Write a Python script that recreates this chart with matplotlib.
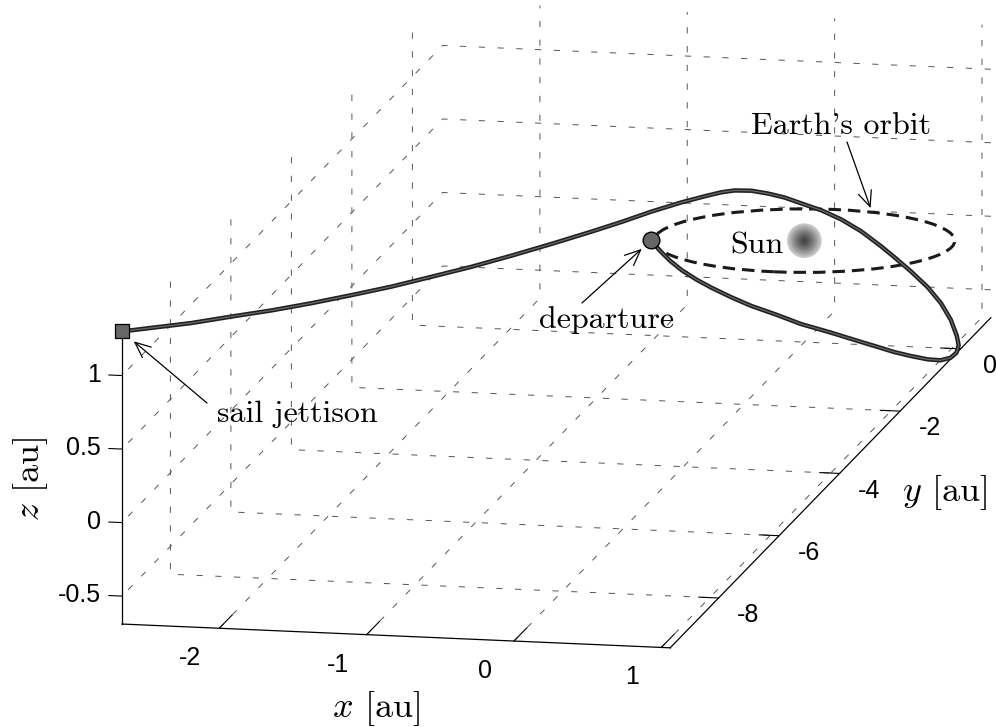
import numpy as np
import matplotlib
matplotlib.use("Agg")
import matplotlib.pyplot as plt
from matplotlib.patches import Circle
from mpl_toolkits.mplot3d import art3d, proj3d

plt.rcParams.update({
    "font.family": "Liberation Sans",
    "mathtext.fontset": "cm",
    "axes.unicode_minus": False,
    "grid.linestyle": (0, (4.5, 9.0)),
    "grid.linewidth": 0.7,
    "grid.color": "#555555",
    "lines.scale_dashes": False,
    "axes.linewidth": 0.9,
})

# sail trajectory from departure to sail jettison [au]
traj_x = [-1.0, -0.931, -0.855, -0.766, -0.657, -0.547, -0.404, -0.261, -0.085,
          0.091, 0.299, 0.503, 0.603, 0.722, 0.830, 0.935, 1.011, 1.054, 1.059,
          1.041, 0.999, 0.932, 0.841, 0.732, 0.601, 0.478, 0.386, 0.251, 0.124,
          0.010, -0.097, -0.180, -0.253, -0.328, -0.392, -0.440, -0.496, -0.589,
          -0.700, -0.811, -0.922, -1.071, -1.219, -1.368, -1.516, -1.664,
          -1.813, -1.961, -2.109, -2.258, -2.406, -2.555, -2.66]
traj_y = [-0.2, -0.24, -0.28, -0.32, -0.36, -0.40, -0.44, -0.48, -0.515,
          -0.55, -0.575, -0.58, -0.575, -0.56, -0.53, -0.48, -0.42, -0.30, -0.13,
          0.03, 0.17, 0.30, 0.42, 0.52, 0.60, 0.64, 0.66, 0.66, 0.62,
          0.52, 0.38, 0.22, 0.05, -0.15, -0.40, -0.595, -0.821, -1.197,
          -1.648, -2.099, -2.550, -3.151, -3.752, -4.354, -4.955, -5.556,
          -6.158, -6.759, -7.360, -7.962, -8.563, -9.164, -9.6]
traj_z = [0.0, -0.058, -0.114, -0.167, -0.218, -0.260, -0.310, -0.354, -0.398,
          -0.447, -0.491, -0.544, -0.571, -0.607, -0.636, -0.665, -0.681, -0.687,
          -0.689, -0.672, -0.638, -0.561, -0.478, -0.397, -0.311, -0.226, -0.162,
          -0.066, 0.018, 0.096, 0.168, 0.239, 0.298, 0.357, 0.409, 0.436, 0.457,
          0.488, 0.516, 0.536, 0.561, 0.598, 0.639, 0.684, 0.737, 0.791,
          0.854, 0.920, 0.992, 1.071, 1.148, 1.236, 1.30]

departure = (-1.0, -0.2, 0.0)
jettison = (-2.66, -9.6, 1.30)
sun = (0.0, 0.0, 0.0)
orbit_radius = 1.0
orbit_pointer = (0.26, 0.97, 0.0)

xlim = (-2.66, 1.06)
ylim = (-9.6, 1.0)
zlim = (-0.69, 1.30)
x_ticks = [-2, -1, 0, 1]
y_ticks = [-8, -6, -4, -2, 0]
z_ticks = [-0.5, 0, 0.5, 1]
z_ticklabels = ["-0.5", "0", "0.5", "1"]

W, H = 996, 727
fig = plt.figure(figsize=(W / 100, H / 100), dpi=100)
ax = fig.add_axes([0, 0, 1, 1], projection="3d", proj_type="ortho")
ax.computed_zorder = False
ax.set_xlim(*xlim)
ax.set_ylim(*ylim)
ax.set_zlim(*zlim)
ax.set_box_aspect((xlim[1] - xlim[0], ylim[1] - ylim[0], zlim[1] - zlim[0]))
ax.view_init(elev=12.2, azim=-78.4)

for axis in (ax.xaxis, ax.yaxis, ax.zaxis):
    axis.set_pane_color((1, 1, 1, 0))
    axis.pane.set_edgecolor((1, 1, 1, 0))
    axis._axinfo["tick"]["inward_factor"] = 0.0
    axis._axinfo["axisline"]["color"] = "k"
ax.xaxis._axinfo["tick"]["outward_factor"] = 0.5
ax.yaxis._axinfo["tick"]["outward_factor"] = 0.45
ax.zaxis._axinfo["tick"]["outward_factor"] = 0.3

# MATLAB-like axis placement: z axis at the front-left edge, flat ticks
ax.zaxis.set_ticks_position("lower")
ax.zaxis._get_tickdir = lambda position: 0
ax.xaxis._axmask = lambda: [False, True, False]
ax.yaxis._axmask = lambda: [True, False, True]
ax.zaxis._axmask = lambda: [True, False, False]

ax.set_xticks(x_ticks)
ax.set_yticks(y_ticks)
ax.set_zticks(z_ticks)
ax.set_zticklabels(z_ticklabels)
ax.tick_params(labelsize=18, colors="k")

# Earth's orbit
orbit = Circle((0, 0), orbit_radius, fill=False, ls=(0, (9, 5)), lw=2.2, ec="#1a1a1a")
ax.add_patch(orbit)
art3d.pathpatch_2d_to_3d(orbit, z=0, zdir="z")
orbit.set_zorder(2)

# trajectory
ax.plot(traj_x, traj_y, traj_z, color="#202020", lw=3.2, zorder=3,
        solid_capstyle="round", solid_joinstyle="round")
ax.plot(traj_x, traj_y, traj_z, color="#6a6a6a", lw=0.9, zorder=3.1,
        solid_capstyle="round", solid_joinstyle="round")

# Sun with radial shading
n_layers = 16
for i in range(n_layers):
    f = 1 - i / n_layers
    g = 0.25 + 0.55 * f ** 1.3
    ax.scatter(*sun, s=(25.0 * f) ** 2, color=(g, g, g), edgecolors="none",
               depthshade=False, zorder=4)

ax.plot([departure[0]], [departure[1]], [departure[2]], "o", ms=12,
        mfc="#666666", mec="k", mew=1.0, zorder=5)
ax.plot([jettison[0]], [jettison[1]], [jettison[2]], "s", ms=10,
        mfc="#666666", mec="k", mew=0.9, zorder=5)


def to_px(p):
    u, v, _ = proj3d.proj_transform(p[0], p[1], p[2], ax.get_proj())
    return ax.transData.transform((u, v))


# fit the projected box onto the figure
fig.canvas.draw()
corners = [(xlim[1], ylim[0], zlim[0]), (xlim[0], ylim[0], zlim[1]),
           (xlim[1], ylim[1], zlim[0])]
targets = np.array([(672, H - 647), (121, H - 330), (990, H - 320)], float)
P = np.array([to_px(c) for c in corners])
Pc, Tc = P - P.mean(0), targets - targets.mean(0)
k = (Pc * Tc).sum() / (Pc * Pc).sum()
b = targets.mean(0) - k * P.mean(0)
ax.set_position([b[0] / W, b[1] / H, k, k])
fig.canvas.draw()

# tick label offsets in data units, converted to mplot3d pads
dpp = 48 / (72 * sum(ax.bbox.size) / fig.dpi)
dx, dy = (xlim[1] - xlim[0]) / 12, (ylim[1] - ylim[0]) / 12
ax.tick_params(axis="x", pad=1.0 / (dpp * dy) - 8)
ax.tick_params(axis="y", pad=0.21 / (dpp * dx) - 8)
ax.tick_params(axis="z", pad=0.15 / (dpp * dx) - 8)
for lbl in ax.xaxis.get_majorticklabels() + ax.yaxis.get_majorticklabels():
    lbl.set_ha("center")
    lbl.set_va("center")
for lbl in ax.zaxis.get_majorticklabels():
    lbl.set_ha("right")
    lbl.set_va("center")

lab = dict(fontfamily="cmr10", fontsize=26, ha="center", va="center")
fig.text(376 / W, 1 - 708 / H, r"$x$ [au]", **lab)
fig.text(945 / W, 1 - 493 / H, r"$y$ [au]", **lab)
fig.text(30 / W, 1 - 479 / H, r"$z$ [au]", rotation=90, **lab)

txt = dict(fontfamily="cmr10", fontsize=23, va="baseline")
arrow = dict(arrowstyle="->,head_length=0.8,head_width=0.35", color="k",
             lw=0.9, shrinkA=0, mutation_scale=14)

fig.text(297 / W, 1 - 422 / H, "sail jettison", ha="center", **txt)
ax.annotate("", xy=to_px(jettison), xycoords="figure pixels",
            xytext=(207, H - 403), textcoords="figure pixels",
            arrowprops=dict(arrow, shrinkB=11))

fig.text(606 / W, 1 - 328 / H, "departure", ha="center", **txt)
ax.annotate("", xy=to_px(departure), xycoords="figure pixels",
            xytext=(582, H - 303), textcoords="figure pixels",
            arrowprops=dict(arrow, shrinkB=9))

fig.text(841 / W, 1 - 134 / H, "Earth's orbit", ha="center", **txt)
ax.annotate("", xy=to_px(orbit_pointer), xycoords="figure pixels",
            xytext=(847, H - 142), textcoords="figure pixels",
            arrowprops=dict(arrow, shrinkB=3))

fig.text(784 / W, 1 - 253 / H, "Sun", ha="right", **txt)

fig.savefig("out.png", dpi=100)
